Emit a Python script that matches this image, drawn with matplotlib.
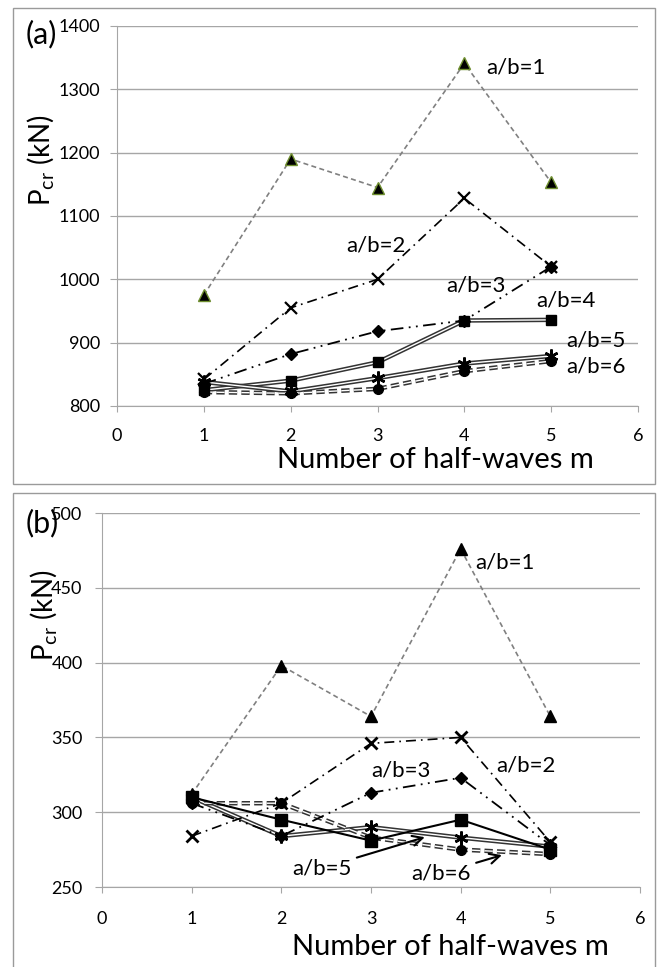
import matplotlib
matplotlib.use("Agg")
import matplotlib.pyplot as plt
import matplotlib.patheffects as pe
from matplotlib.patches import Rectangle

plt.rcParams['font.family'] = ['Lato', 'DejaVu Sans']
plt.rcParams['mathtext.fontset'] = 'custom'
plt.rcParams['mathtext.rm'] = 'Lato'

# number of half-waves
m = [1, 2, 3, 4, 5]

# panel (a) critical loads (kN)
ab1_a = [975, 1190, 1145, 1341, 1153]
ab2_a = [842, 955, 1000, 1128, 1020]
ab3_a = [835, 882, 918, 935, 1020]
ab4_a = [825, 840, 869, 935, 936]
ab5_a = [838, 823, 844, 867, 879]
ab6_a = [822, 820, 827, 855, 871]

# panel (b) critical loads (kN)
ab1_b = [312, 398, 364, 476, 364]
ab2_b = [284, 306, 346, 350, 280]
ab3_b = [306, 284, 313, 323, 278]
ab4_b = [310, 295, 281, 295, 275]
ab5_b = [310, 284, 290, 283, 277]
ab6_b = [306, 306, 283, 275, 272]

yticks_a = [800, 900, 1000, 1100, 1200, 1300, 1400]
yticks_b = [250, 300, 350, 400, 450, 500]
xticks = [0, 1, 2, 3, 4, 5, 6]

GRID = '#a6a6a6'
double = [pe.Stroke(linewidth=3.2, foreground='#333333'), pe.Normal()]
star = (6, 2, 0)

fig = plt.figure(figsize=(6.6, 9.67), dpi=100)

# grey frames around each panel
fig.patches.append(Rectangle((13 / 660, 1 - 484 / 967), 642 / 660, 476 / 967,
                             transform=fig.transFigure, fill=False, ec='#9a9a9a', lw=1))
fig.patches.append(Rectangle((13 / 660, -0.01), 642 / 660, 1 - 493 / 967 + 0.01,
                             transform=fig.transFigure, fill=False, ec='#9a9a9a', lw=1))

axA = fig.add_axes([117 / 660, 1 - 406 / 967, 521 / 660, 380 / 967])
axB = fig.add_axes([102 / 660, 1 - 887 / 967, 538 / 660, 374 / 967])


def style(ax, yt, xpad, ypad):
    ax.set_xlim(0, 6)
    ax.set_ylim(yt[0], yt[-1])
    ax.set_xticks(xticks)
    ax.set_yticks(yt)
    ax.grid(axis='y', color=GRID, lw=1)
    ax.set_axisbelow(True)
    for s in ['top', 'right']:
        ax.spines[s].set_visible(False)
    for s in ['left', 'bottom']:
        ax.spines[s].set_color(GRID)
    ax.tick_params(axis='x', length=4, color=GRID, labelsize=13, pad=xpad)
    ax.tick_params(axis='y', length=5, color=GRID, labelsize=13, pad=ypad)


# ---- panel (a)
style(axA, yticks_a, 12, 7)
axA.plot(m, ab1_a, color='#808080', ls=(0, (3, 2)), lw=1.2, marker='^', ms=8,
         mfc='black', mec='#6f8f2f', zorder=3)
axA.plot(m, ab2_a, color='black', ls=(0, (6, 3, 1, 3)), lw=1.2, marker='x', ms=9,
         mew=1.6, zorder=3)
axA.plot(m, ab3_a, color='black', ls=(0, (7, 3, 1, 3, 1, 3)), lw=1.3, marker='D', ms=6,
         mfc='black', zorder=3)
axA.plot(m, ab4_a, color='white', lw=1, path_effects=double, zorder=2)
axA.plot(m, ab4_a, ls='none', marker='s', ms=7, color='black', zorder=4)
axA.plot(m, ab5_a, color='white', lw=1, path_effects=double, zorder=2)
axA.plot(m, ab5_a, ls='none', marker=star, ms=10, mew=1.8, color='black', zorder=4)
axA.plot(m, ab6_a, color='white', lw=1, ls=(0, (6, 3)), path_effects=double, zorder=2)
axA.plot(m, ab6_a, ls='none', marker='o', ms=7, color='black', zorder=4)

fs = 16
axA.text(4.60, 1334, 'a/b=1', fontsize=fs, ha='center', va='center')
axA.text(2.98, 1054, 'a/b=2', fontsize=fs, ha='center', va='center')
axA.text(4.13, 991, 'a/b=3', fontsize=fs, ha='center', va='center')
axA.text(5.17, 967, 'a/b=4', fontsize=fs, ha='center', va='center')
axA.text(5.52, 904, 'a/b=5', fontsize=fs, ha='center', va='center')
axA.text(5.52, 862, 'a/b=6', fontsize=fs, ha='center', va='center')

# ---- panel (b)
style(axB, yticks_b, 13, 9)
axB.plot(m, ab1_b, color='#808080', ls=(0, (3, 2)), lw=1.2, marker='^', ms=8,
         mfc='black', mec='black', zorder=3)
axB.plot(m, ab2_b, color='black', ls=(0, (6, 3, 1, 3)), lw=1.2, marker='x', ms=9,
         mew=2, zorder=3)
axB.plot(m, ab3_b, color='black', ls=(0, (7, 3, 1, 3, 1, 3)), lw=1.3, marker='D', ms=6,
         mfc='black', zorder=3)
axB.plot(m, ab4_b, color='black', lw=1.5, marker='s', ms=8, zorder=3)
axB.plot(m, ab5_b, color='white', lw=1, path_effects=double, zorder=2)
axB.plot(m, ab5_b, ls='none', marker=star, ms=10, mew=1.8, color='black', zorder=4)
axB.plot(m, ab6_b, color='white', lw=1, ls=(0, (6, 3)), path_effects=double, zorder=2)
axB.plot(m, ab6_b, ls='none', marker='o', ms=7, color='black', zorder=4)

axB.text(4.49, 467, 'a/b=1', fontsize=fs, ha='center', va='center')
axB.text(3.33, 328, 'a/b=3', fontsize=fs, ha='center', va='center')
axB.text(4.73, 331.5, 'a/b=2', fontsize=fs, ha='center', va='center')
arrow = dict(arrowstyle='->', color='black', lw=1.5, shrinkA=2, shrinkB=0,
             mutation_scale=18)
axB.annotate('a/b=5', xy=(3.60, 283.3), xytext=(2.45, 262.6), fontsize=fs,
             ha='center', va='center', arrowprops=arrow)
axB.annotate('a/b=6', xy=(4.46, 271.3), xytext=(3.78, 259.2), fontsize=fs,
             ha='center', va='center', arrowprops=arrow)

# ---- titles and panel letters
ylab = r'P$_{\mathrm{cr}}$ (kN)'
fig.text(41 / 660, 1 - 160 / 967, ylab, rotation=90, fontsize=20, ha='center', va='center')
fig.text(44 / 660, 1 - 615 / 967, ylab, rotation=90, fontsize=20, ha='center', va='center')
fig.text(435 / 660, 1 - 460 / 967, 'Number of half-waves m', fontsize=21,
         ha='center', va='center')
fig.text(450 / 660, 1 - 947 / 967, 'Number of half-waves m', fontsize=21,
         ha='center', va='center')
fig.text(41 / 660, 1 - 34 / 967, '(a)', fontsize=22, ha='center', va='center')
fig.text(42 / 660, 1 - 523 / 967, '(b)', fontsize=22, ha='center', va='center')

fig.savefig('out.png', dpi=100)
